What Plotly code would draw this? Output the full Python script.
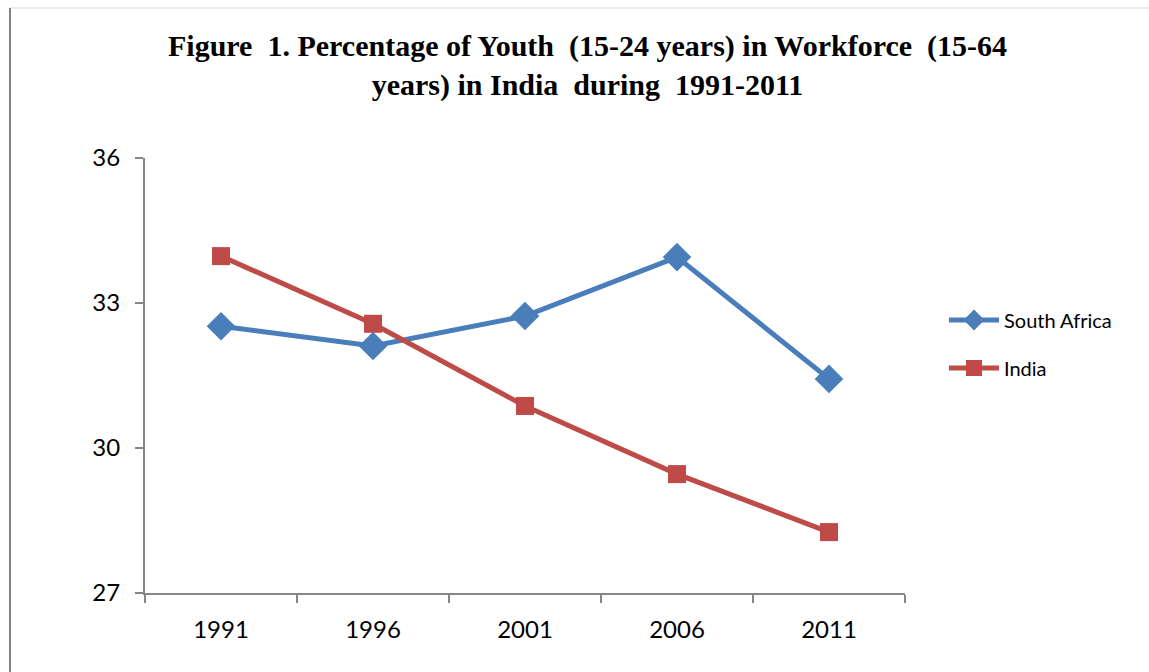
import plotly.graph_objects as go

years = ["1991", "1996", "2001", "2006", "2011"]
south_africa = [32.52, 32.11, 32.73, 33.95, 31.43]
india = [33.97, 32.57, 30.87, 29.46, 28.26]
y_ticks = [27, 30, 33, 36]

L, R, T, B = 145, 244, 158, 79
W, H = 1149, 672
pw, ph = W - L - R, H - T - B

def px(x):
    return (x - L) / pw

def py(y):
    return (H - B - y) / ph

fig = go.Figure()
fig.add_trace(go.Scatter(
    x=years, y=south_africa, name="South Africa", mode="lines+markers",
    line=dict(color="#4A7EBB", width=5),
    marker=dict(symbol="diamond", size=22, color="#4A7EBB"),
    legendgroup="a",
))
fig.add_trace(go.Scatter(
    x=years, y=india, name="India", mode="lines+markers",
    line=dict(color="#BE4B48", width=5),
    marker=dict(symbol="square", size=18, color="#BE4B48"),
    legendgroup="b",
))

fig.update_layout(
    width=W, height=H,
    margin=dict(l=L, r=R, t=T, b=B),
    paper_bgcolor="white", plot_bgcolor="white",
    font=dict(family="Lato, Open Sans, sans-serif", color="black"),
    showlegend=True,
    legend=dict(x=px(944), xanchor="left", y=py(344), yanchor="middle",
                font=dict(size=20, family="Lato, sans-serif"),
                traceorder="grouped", tracegroupgap=19, itemwidth=50,
                bgcolor="rgba(0,0,0,0)"),
    xaxis=dict(type="category", range=[-0.5, 4.5], showgrid=False,
               showline=True, linecolor="#868686", linewidth=2,
               ticks="outside", ticklen=8, tickcolor="#868686", tickwidth=2,
               tickson="boundaries", tickfont=dict(size=24),
               ticklabelstandoff=14, fixedrange=True),
    yaxis=dict(range=[27, 36], tickvals=y_ticks, showgrid=False, zeroline=False,
               showline=True, linecolor="#868686", linewidth=2,
               ticks="outside", ticklen=8, tickcolor="#868686", tickwidth=2,
               tickfont=dict(size=24), ticklabelstandoff=10, fixedrange=True),
)

fig.add_annotation(
    text="<b>Figure  1. Percentage of Youth  (15-24 years) in Workforce  (15-64<br>years) in India  during  1991-2011</b>",
    xref="paper", yref="paper", x=px(587), y=py(65), xanchor="center", yanchor="middle",
    showarrow=False, align="center",
    font=dict(family="Liberation Serif, Times New Roman, serif", size=30, color="black"),
)

# outer chart frame (partially visible)
fig.add_shape(type="line", xref="paper", yref="paper",
              x0=px(10), x1=px(1149), y0=py(8), y1=py(8),
              line=dict(color="#E4E4E4", width=1.5))
fig.add_shape(type="line", xref="paper", yref="paper",
              x0=px(10), x1=px(10), y0=py(8), y1=py(672),
              line=dict(color="#808080", width=2))

fig.write_html("out.html")
